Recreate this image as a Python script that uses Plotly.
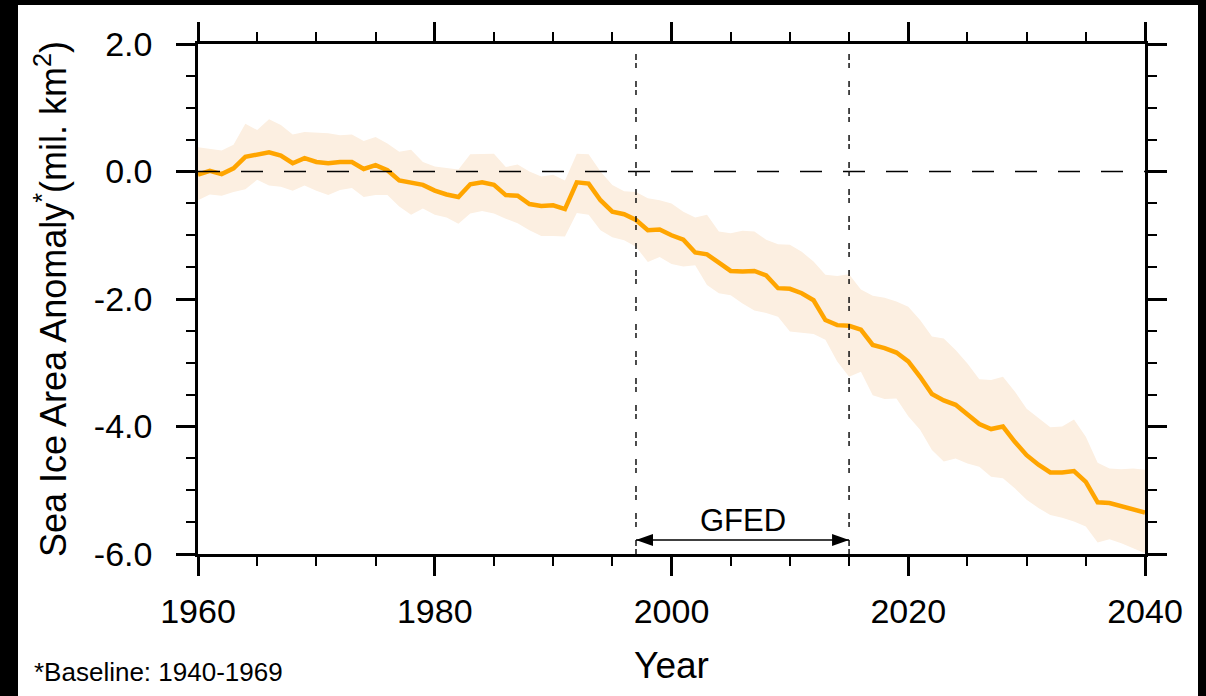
import plotly.graph_objects as go

# ---------------- data ----------------
years = list(range(1960, 2041))
mean_anom = [
    -0.05, 0.01, -0.04, 0.05, 0.23, 0.27, 0.30, 0.25, 0.13, 0.21,
    0.15, 0.13, 0.15, 0.15, 0.04, 0.10, 0.02, -0.14, -0.17, -0.21,
    -0.30, -0.36, -0.40, -0.20, -0.17, -0.21, -0.37, -0.38, -0.51, -0.54,
    -0.53, -0.59, -0.17, -0.19, -0.45, -0.63, -0.67, -0.76, -0.92, -0.91,
    -1.00, -1.07, -1.27, -1.30, -1.43, -1.56, -1.57, -1.56, -1.63, -1.83,
    -1.84, -1.91, -2.02, -2.33, -2.41, -2.42, -2.48, -2.72, -2.77, -2.84,
    -2.98, -3.22, -3.49, -3.59, -3.66, -3.82, -3.96, -4.04, -4.00, -4.24,
    -4.45, -4.60, -4.72, -4.72, -4.70, -4.87, -5.19, -5.20, -5.25, -5.30,
    -5.35,
]
upper_anom = [
    0.38, 0.36, 0.33, 0.42, 0.75, 0.65, 0.82, 0.73, 0.58, 0.62,
    0.61, 0.60, 0.57, 0.58, 0.48, 0.54, 0.44, 0.31, 0.34, 0.15,
    0.08, 0.05, 0.03, 0.27, 0.27, 0.28, 0.07, 0.11, 0.00, -0.08,
    -0.05, -0.14, 0.28, 0.27, 0.00, -0.21, -0.31, -0.32, -0.42, -0.45,
    -0.50, -0.63, -0.72, -0.68, -0.94, -0.97, -0.93, -0.94, -1.07, -1.14,
    -1.15, -1.26, -1.41, -1.62, -1.64, -1.61, -1.85, -1.95, -1.98, -2.04,
    -2.12, -2.33, -2.59, -2.62, -2.80, -3.01, -3.26, -3.27, -3.22, -3.45,
    -3.72, -3.87, -4.01, -4.00, -3.89, -4.16, -4.57, -4.66, -4.67, -4.66,
    -4.68,
]
lower_anom = [
    -0.45, -0.36, -0.38, -0.32, -0.28, -0.13, -0.22, -0.24, -0.30, -0.22,
    -0.30, -0.37, -0.29, -0.26, -0.40, -0.37, -0.37, -0.55, -0.68, -0.58,
    -0.68, -0.72, -0.82, -0.66, -0.62, -0.66, -0.74, -0.81, -0.92, -1.01,
    -1.01, -1.02, -0.65, -0.68, -0.92, -1.03, -1.08, -1.18, -1.42, -1.34,
    -1.45, -1.49, -1.47, -1.78, -1.91, -1.94, -2.07, -2.18, -2.22, -2.28,
    -2.51, -2.53, -2.55, -2.64, -2.98, -3.22, -3.14, -3.51, -3.57, -3.56,
    -3.84, -4.05, -4.37, -4.55, -4.50, -4.58, -4.63, -4.79, -4.81, -4.97,
    -5.15, -5.28, -5.39, -5.43, -5.49, -5.57, -5.82, -5.77, -5.83, -5.91,
    -5.99,
]
x_tickvals = [1960, 1980, 2000, 2020, 2040]
x_ticktext = ["1960", "1980", "2000", "2020", "2040"]
y_tickvals = [-6, -4, -2, 0, 2]
y_ticktext = ["-6.0", "-4.0", "-2.0", "0.0", "2.0"]
gfed_start, gfed_end = 1997, 2015
gfed_label = "GFED"
gfed_arrow_y = -5.78
gfed_label_y = -5.47
footnote = "*Baseline: 1940-1969"

# ---------------- layout helpers ----------------
W, H = 1206, 696
ML, MR, MT, MB = 198, 61, 44, 142
PW, PH = W - ML - MR, H - MT - MB


def pxx(px):
    return (px - ML) / PW


def pxy(py):
    return (H - MB - py) / PH


FONT = "Liberation Sans, Arial, Helvetica, sans-serif"
ORANGE = "#FFA500"
BAND = "#FCEFE1"

fig = go.Figure()

fig.add_trace(go.Scatter(x=years, y=upper_anom, mode="lines",
                         line=dict(width=0, color=BAND), hoverinfo="skip",
                         showlegend=False))
fig.add_trace(go.Scatter(x=years, y=lower_anom, mode="lines",
                         line=dict(width=0, color=BAND), fill="tonexty",
                         fillcolor=BAND, hoverinfo="skip", showlegend=False))
fig.add_trace(go.Scatter(x=years, y=mean_anom, mode="lines",
                         line=dict(width=4.5, color=ORANGE), showlegend=False))

shapes = []
# white page on black frame
shapes.append(dict(type="rect", xref="paper", yref="paper",
                   x0=pxx(18), x1=pxx(1198), y0=pxy(H + 2), y1=pxy(5),
                   fillcolor="white", line=dict(width=0), layer="below"))
# zero line
shapes.append(dict(type="line", xref="x", yref="y", x0=years[0], x1=years[-1],
                   y0=0, y1=0, line=dict(color="black", width=1.5, dash="22px,21px"),
                   layer="above"))
# GFED period lines
for yr in (gfed_start, gfed_end):
    shapes.append(dict(type="line", xref="x", yref="y", x0=yr, x1=yr,
                       y0=y_tickvals[0], y1=1.85,
                       line=dict(color="#111111", width=1.5, dash="5px,3px,6px,13px"),
                       layer="above"))
# arrow shaft
shapes.append(dict(type="line", xref="x", yref="y", x0=gfed_start, x1=gfed_end,
                   y0=gfed_arrow_y, y1=gfed_arrow_y,
                   line=dict(color="black", width=1.5), layer="above"))
# arrow heads (pixel sized, anchored at data points)
shapes.append(dict(type="path", xref="x", yref="y", xsizemode="pixel", ysizemode="pixel",
                   xanchor=gfed_start, yanchor=gfed_arrow_y,
                   path="M0,0 L17,6 L17,-6 Z", fillcolor="black",
                   line=dict(width=0), layer="above"))
shapes.append(dict(type="path", xref="x", yref="y", xsizemode="pixel", ysizemode="pixel",
                   xanchor=gfed_end, yanchor=gfed_arrow_y,
                   path="M0,0 L-17,6 L-17,-6 Z", fillcolor="black",
                   line=dict(width=0), layer="above"))

annotations = [
    dict(text=gfed_label, x=(gfed_start + gfed_end) / 2, y=gfed_label_y,
         xref="x", yref="y", showarrow=False, xanchor="center", yanchor="middle",
         font=dict(family=FONT, size=31, color="black")),
    dict(text=footnote, x=pxx(32), y=pxy(672), xref="paper", yref="paper",
         showarrow=False, xanchor="left", yanchor="middle",
         font=dict(family=FONT, size=26, color="black")),
]

axis_common = dict(
    showline=True, linecolor="black", linewidth=2.5, mirror="allticks",
    ticks="outside", ticklen=19, tickwidth=2.5, tickcolor="black",
    showgrid=False, zeroline=False,
    tickfont=dict(family=FONT, size=34, color="black"),
)

fig.update_layout(
    width=W, height=H,
    margin=dict(l=ML, r=MR, t=MT, b=MB, pad=0),
    paper_bgcolor="black", plot_bgcolor="white",
    shapes=shapes, annotations=annotations,
    xaxis=dict(range=[1960, 2040], tickmode="array", tickvals=x_tickvals,
               ticktext=x_ticktext, ticklabelstandoff=6,
               minor=dict(tickmode="linear", tick0=1960, dtick=5, ticks="outside",
                          ticklen=9, tickwidth=1.5, tickcolor="black"),
               title=dict(text="Year", font=dict(family=FONT, size=37, color="black"),
                          standoff=24),
               **axis_common),
    yaxis=dict(range=[-6, 2], tickmode="array", tickvals=y_tickvals,
               ticktext=y_ticktext, ticklabelstandoff=17,
               minor=dict(tickmode="linear", tick0=-6, dtick=0.5, ticks="outside",
                          ticklen=9, tickwidth=1.5, tickcolor="black"),
               title=dict(text="Sea Ice Area Anomaly<sup>*</sup>(mil. km<sup>2</sup>)",
                          font=dict(family=FONT, size=36, color="black"),
                          standoff=17),
               **axis_common),
)

fig.write_html("out.html")
